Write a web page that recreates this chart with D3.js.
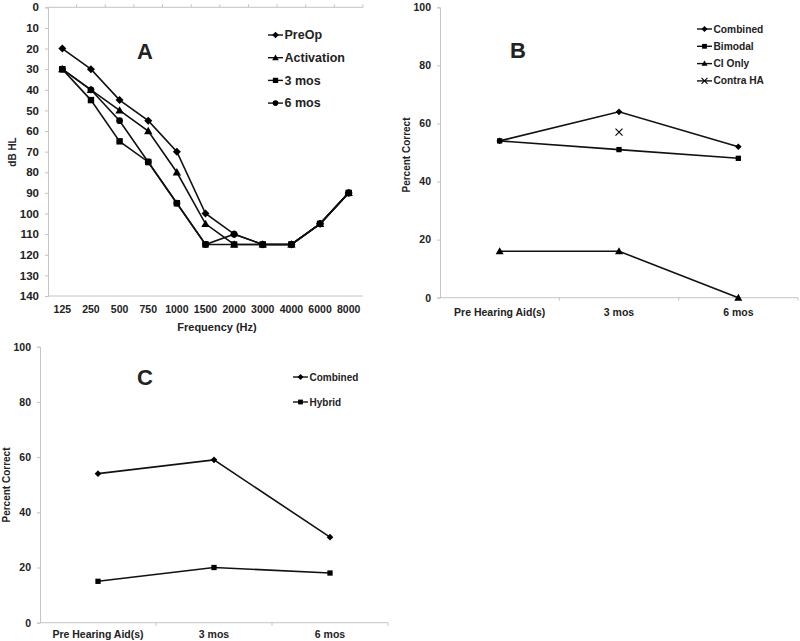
<!DOCTYPE html>
<html><head><meta charset="utf-8">
<script src="https://cdn.jsdelivr.net/npm/d3@7"></script>
<style>body{margin:0;background:#fff}svg{display:block}text{font-family:"Liberation Sans",Arial,sans-serif;font-weight:bold;fill:#222}</style>
</head><body>
<svg id="c" width="800" height="641"></svg>
<script>
// Panel A data
const freqs = ["125","250","500","750","1000","1500","2000","3000","4000","6000","8000"];
const dbTicks = [0,10,20,30,40,50,60,70,80,90,100,110,120,130,140];
const preOp      = [20,30,45,55,70,100,110,115,115,105,90];
const activation = [30,40,50,60,80,105,115,115,115,105,90];
const mos3A      = [30,45,65,75,95,115,115,115,115,105,90];
const mos6A      = [30,40,55,75,95,115,110,115,115,105,90];
// Panel B data
const visits = ["Pre Hearing Aid(s)","3 mos","6 mos"];
const pctTicks = [0,20,40,60,80,100];
const combinedB = [54,64,52];
const bimodalB  = [54,51,48];
const ciOnlyB   = [16,16,0];
const contraHA  = [null,57,null];
// Panel C data
const combinedC = [54,59,31];
const hybridC   = [15,20,18];

const svg = d3.select("#c");
const axisCol = "#c4c4c4";

function marker(g, type, x, y, s) {
  if (type === "diamond") {
    g.append("path").attr("d", `M${x},${y-s}L${x+s},${y}L${x},${y+s}L${x-s},${y}Z`).attr("fill","#000");
  } else if (type === "square") {
    g.append("rect").attr("x", x-s*0.8).attr("y", y-s*0.8).attr("width", s*1.6).attr("height", s*1.6).attr("fill","#000");
  } else if (type === "triangle") {
    g.append("path").attr("d", `M${x},${y-s}L${x+s},${y+s*0.75}L${x-s},${y+s*0.75}Z`).attr("fill","#000");
  } else if (type === "circle") {
    g.append("circle").attr("cx", x).attr("cy", y).attr("r", s*0.85).attr("fill","#000");
  } else if (type === "x") {
    g.append("path").attr("d", `M${x-s},${y-s}L${x+s},${y+s}M${x-s},${y+s}L${x+s},${y-s}`).attr("stroke","#000").attr("stroke-width",1.1).attr("fill","none");
  }
}

function panel(opt) {
  const g = svg.append("g");
  const x = d3.scaleBand().domain(opt.cats).range([opt.x0, opt.x1]);
  const y = d3.scaleLinear().domain(opt.ydom).range(opt.yRange);
  const cx = c => x(c) + x.bandwidth()/2;
  // axes
  const yAxis = d3.axisLeft(y).tickValues(opt.yticks).tickSize(3).tickPadding(6);
  const ya = g.append("g").attr("transform", `translate(${opt.x0},0)`).call(yAxis);
  ya.select(".domain").attr("stroke", axisCol);
  ya.selectAll(".tick line").attr("stroke", axisCol);
  ya.selectAll("text").attr("font-size", opt.yFont).style("fill","#222").attr("font-family","Liberation Sans, Arial").attr("font-weight","bold");
  // category axis line
  const axY = opt.catAxisY;
  g.append("line").attr("x1", opt.x0).attr("x2", opt.x1).attr("y1", axY).attr("y2", axY).attr("stroke", axisCol);
  opt.cats.forEach((c, i) => {
    if (i > 0) g.append("line").attr("x1", x(c)).attr("x2", x(c)).attr("y1", axY).attr("y2", axY + opt.catTickDir*3).attr("stroke", axisCol);
  });
  g.append("line").attr("x1", opt.x1).attr("x2", opt.x1).attr("y1", axY).attr("y2", axY + opt.catTickDir*3).attr("stroke", axisCol);
  if (opt.extraLineY !== undefined) {
    g.append("line").attr("x1", opt.x0).attr("x2", opt.x1).attr("y1", opt.extraLineY).attr("y2", opt.extraLineY).attr("stroke", axisCol);
  }
  // category labels
  g.selectAll("text.cat").data(opt.cats).join("text").attr("class","cat")
    .attr("x", d => cx(d)).attr("y", opt.catLabelY).attr("text-anchor","middle")
    .attr("font-size", opt.catFont).text(d => d);
  // series
  opt.series.forEach(s => {
    const pts = s.values.map((v, i) => [cx(opt.cats[i]), v == null ? null : y(v)]).filter(p => p[1] !== null);
    if (s.line !== false) {
      g.append("path").attr("d", d3.line()(pts)).attr("fill","none").attr("stroke","#111").attr("stroke-width",1.6);
    }
    pts.forEach(p => marker(g, s.marker, p[0], p[1], s.size || opt.msize));
  });
  // legend
  opt.series.forEach((s, i) => {
    const ly = opt.legY + i*opt.legDy;
    g.append("line").attr("x1", opt.legX).attr("x2", opt.legX+15).attr("y1", ly).attr("y2", ly).attr("stroke","#111").attr("stroke-width",1.4);
    marker(g, s.marker, opt.legX+7.5, ly, opt.legMsize);
    g.append("text").attr("x", opt.legX+16.5).attr("y", ly).attr("dy","0.35em").attr("font-size", opt.legFont).text(s.name);
  });
  // panel letter
  g.append("text").attr("x", opt.letterX).attr("y", opt.letterY).attr("text-anchor","middle").attr("font-size", 22).text(opt.letter);
  // y title
  g.append("text").attr("transform", `translate(${opt.ytX},${opt.ytY}) rotate(-90)`).attr("text-anchor","middle").attr("font-size", 10).text(opt.ytitle);
  return g;
}

panel({
  cats: freqs, ydom: [0,140], yticks: dbTicks, x0: 48, x1: 363, yRange: [7.3, 296],
  catAxisY: 7.3, catTickDir: -1, extraLineY: 296, catLabelY: 313, catFont: 10.5, yFont: 11.5,
  msize: 4, legMsize: 3.3, legX: 268, legY: 35, legDy: 22.7, legFont: 12.5,
  letter: "A", letterX: 145, letterY: 59, ytitle: "dB HL", ytX: 16, ytY: 152,
  series: [
    {name:"PreOp", values: preOp, marker:"diamond"},
    {name:"Activation", values: activation, marker:"triangle", size: 4.2},
    {name:"3 mos", values: mos3A, marker:"square"},
    {name:"6 mos", values: mos6A, marker:"circle"}
  ]
});
svg.append("text").attr("x", 217).attr("y", 331).attr("text-anchor","middle").attr("font-size", 11).text("Frequency (Hz)");

panel({
  cats: visits, ydom: [0,100], yticks: pctTicks, x0: 440, x1: 798, yRange: [297.7, 7.3],
  catAxisY: 297.7, catTickDir: 1, catLabelY: 316, catFont: 10.5, yFont: 10.5,
  msize: 3.3, legMsize: 3, legX: 697, legY: 29, legDy: 17.3, legFont: 10.2,
  letter: "B", letterX: 518, letterY: 58, ytitle: "Percent Correct", ytX: 410, ytY: 155,
  series: [
    {name:"Combined", values: combinedB, marker:"diamond"},
    {name:"Bimodal", values: bimodalB, marker:"square"},
    {name:"CI Only", values: ciOnlyB, marker:"triangle", size: 4},
    {name:"Contra HA", values: contraHA, marker:"x", line: false, size: 3.5}
  ]
});

panel({
  cats: visits, ydom: [0,100], yticks: pctTicks, x0: 40, x1: 388, yRange: [622.7, 346.7],
  catAxisY: 622.7, catTickDir: 1, catLabelY: 638, catFont: 10.5, yFont: 10.5,
  msize: 3.3, legMsize: 3, legX: 293, legY: 377, legDy: 25, legFont: 10,
  letter: "C", letterX: 145, letterY: 385, ytitle: "Percent Correct", ytX: 10, ytY: 485,
  series: [
    {name:"Combined", values: combinedC, marker:"diamond"},
    {name:"Hybrid", values: hybridC, marker:"square"}
  ]
});
</script>
</body></html>
